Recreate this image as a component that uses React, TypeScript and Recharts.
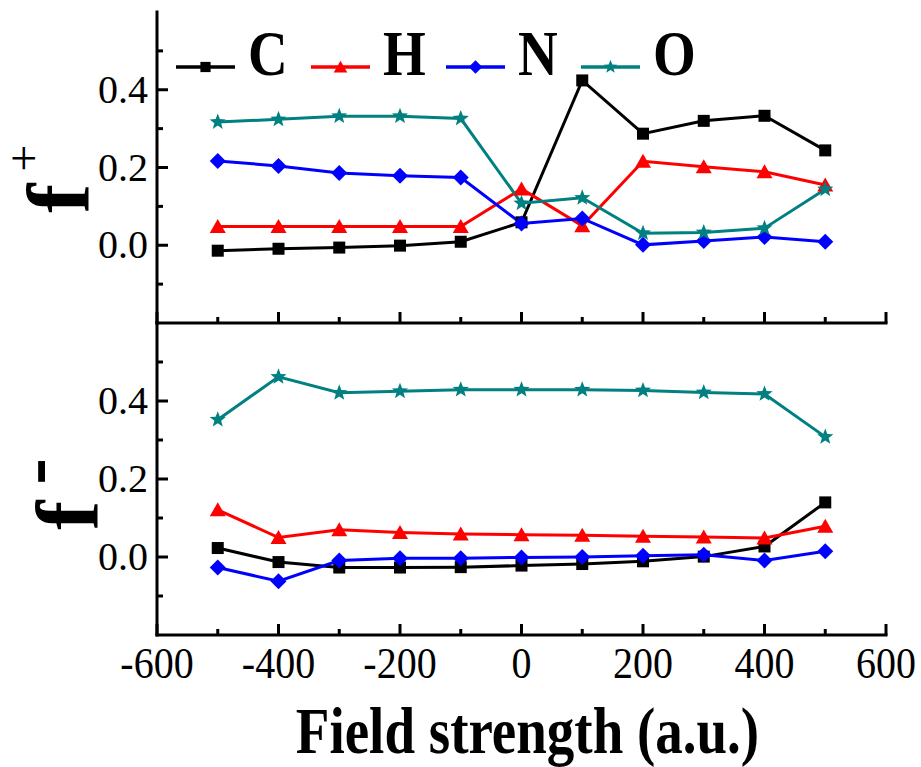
import React from 'react';
import { LineChart, Line, XAxis, YAxis, Legend, Label } from 'recharts';

// field strength (a.u.) at which the Fukui functions were evaluated
const fieldStrength = [-500, -400, -300, -200, -100, 0, 100, 200, 300, 400, 500];

// f+ (upper panel)
const fPlusC = [-0.014, -0.009, -0.006, -0.001, 0.009, 0.059, 0.424, 0.287, 0.32, 0.333, 0.244];
const fPlusH = [0.048, 0.048, 0.048, 0.048, 0.048, 0.145, 0.05, 0.216, 0.202, 0.189, 0.155];
const fPlusN = [0.217, 0.204, 0.186, 0.179, 0.174, 0.056, 0.069, 0.001, 0.011, 0.021, 0.009];
const fPlusO = [0.317, 0.324, 0.332, 0.332, 0.326, 0.108, 0.122, 0.031, 0.033, 0.044, 0.144];

// f- (lower panel)
const fMinusC = [0.023, -0.013, -0.027, -0.027, -0.026, -0.022, -0.018, -0.011, 0.001, 0.027, 0.14];
const fMinusH = [0.121, 0.05, 0.07, 0.063, 0.059, 0.057, 0.056, 0.053, 0.051, 0.049, 0.079];
const fMinusN = [-0.027, -0.062, -0.009, -0.003, -0.003, -0.001, 0.0, 0.003, 0.006, -0.009, 0.015];
const fMinusO = [0.352, 0.462, 0.421, 0.425, 0.429, 0.429, 0.429, 0.427, 0.422, 0.418, 0.308];

const xTicks = [-600, -500, -400, -300, -200, -100, 0, 100, 200, 300, 400, 500, 600];
const yTicks = [-0.1, 0, 0.1, 0.2, 0.3, 0.4, 0.5];
const yLabels = [0, 0.2, 0.4];

const elements = ['C', 'H', 'N', 'O'];
const colors: Record<string, string> = { C: '#000000', H: '#ff0000', N: '#0000ff', O: '#008080' };
const shapes: Record<string, string> = { C: 'square', H: 'triangle', N: 'diamond', O: 'star' };

const serif = "'Liberation Serif', Tinos, 'Times New Roman', Times, 'Nimbus Roman', 'DejaVu Serif', 'Noto Serif', serif";

const toRows = (c: number[], h: number[], n: number[], o: number[]) =>
  fieldStrength.map((x, i) => ({ x, C: c[i], H: h[i], N: n[i], O: o[i] }));

const plusRows = toRows(fPlusC, fPlusH, fPlusN, fPlusO);
const minusRows = toRows(fMinusC, fMinusH, fMinusN, fMinusO);

const Marker = ({ shape, cx, cy, color, s = 1 }: any) => {
  if (cx == null || cy == null) return null;
  if (shape === 'square') {
    return <rect x={cx - 6 * s} y={cy - 6 * s} width={12 * s} height={12 * s} fill={color} />;
  }
  if (shape === 'triangle') {
    const pts = `${cx},${cy - 7.5 * s} ${cx - 8 * s},${cy + 6.5 * s} ${cx + 8 * s},${cy + 6.5 * s}`;
    return <polygon points={pts} fill={color} />;
  }
  if (shape === 'diamond') {
    const pts = `${cx},${cy - 8 * s} ${cx + 8 * s},${cy} ${cx},${cy + 8 * s} ${cx - 8 * s},${cy}`;
    return <polygon points={pts} fill={color} />;
  }
  const pts: string[] = [];
  for (let k = 0; k < 10; k++) {
    const r = (k % 2 === 0 ? 8.5 : 3.6) * s;
    const a = -Math.PI / 2 + (k * Math.PI) / 5;
    pts.push(`${cx + r * Math.cos(a)},${cy + r * Math.sin(a)}`);
  }
  return <polygon points={pts.join(' ')} fill={color} />;
};

const makeDot = (el: string) => (props: any) => (
  <Marker key={`${el}-${props.index}`} shape={shapes[el]} cx={props.cx} cy={props.cy} color={colors[el]} />
);

// inward ticks, labels only on every other tick
const XTick = ({ x, y, payload, showLabel }: any) => {
  const v = payload.value;
  const major = v % 200 === 0;
  return (
    <g>
      <line x1={x} x2={x} y1={y} y2={y - (major ? 11 : 6)} stroke="#000" strokeWidth={3} />
      {showLabel && major && (
        <text
          transform={`translate(${x},${y + 43}) scale(1,1.12)`}
          textAnchor="middle"
          fontSize={40}
          fontFamily={serif}
          fill="#000"
        >
          {v}
        </text>
      )}
    </g>
  );
};

const YTick = ({ x, y, payload }: any) => {
  const v = payload.value;
  const major = yLabels.includes(v);
  return (
    <g>
      <line x1={x} x2={x + (major ? 11 : 6)} y1={y} y2={y} stroke="#000" strokeWidth={3} />
      {major && (
        <text x={x - 9} y={y + 13} textAnchor="end" fontSize={40} fontFamily={serif} fill="#000">
          {v.toFixed(1)}
        </text>
      )}
    </g>
  );
};

// rotated "f+" / "f-" axis titles
const FLabel = ({ viewBox, sup, dx0, dy0, supSize, supWeight, supDx, supDy }: any) => {
  const tx = viewBox.x + dx0;
  const ty = viewBox.y + dy0;
  return (
    <text
      transform={`translate(${tx},${ty}) rotate(-90)`}
      fontFamily={serif}
      fontWeight="bold"
      fontSize={88}
      fill="#000"
    >
      <tspan>f</tspan>
      <tspan fontSize={supSize} fontWeight={supWeight} dx={supDx} dy={supDy}>
        {sup}
      </tspan>
    </text>
  );
};

const TitleLabel = ({ viewBox }: any) => (
  <text
    transform={`translate(${viewBox.x + viewBox.width / 2 + 6},${viewBox.y + 118}) scale(1,1.19)`}
    textAnchor="middle"
    fontFamily={serif}
    fontWeight="bold"
    fontSize={55}
    fill="#000"
  >
    Field strength (a.u.)
  </text>
);

const renderLegend = (props: any) => {
  const items = props.payload && props.payload.length ? props.payload : elements.map((e) => ({ dataKey: e, value: e }));
  return (
    <svg width={560} height={100} style={{ overflow: 'visible' }}>
      {items.map((it: any, i: number) => {
        const key = String(it.dataKey);
        const x0 = 6 + i * 135;
        return (
          <g key={key}>
            <line x1={x0} x2={x0 + 59} y1={67} y2={67} stroke={colors[key]} strokeWidth={3.5} />
            <Marker shape={shapes[key]} cx={x0 + 29.5} cy={67} color={colors[key]} s={0.85} />
            <text
              transform={`translate(${x0 + 72},75) scale(1,1.15)`}
              fontFamily={serif}
              fontWeight="bold"
              fontSize={55}
              fill="#000"
            >
              {it.value}
            </text>
          </g>
        );
      })}
    </svg>
  );
};

const frame = { stroke: '#000', strokeWidth: 3, strokeLinecap: 'square' as const };

const Panel = ({ rows, height, margin, bottomAxisHeight, showXLabels, fLabel, legend }: any) => (
  <LineChart width={921} height={height} data={rows} margin={margin} style={{ fontFamily: serif }}>
    <XAxis
      dataKey="x"
      type="number"
      domain={[-600, 600]}
      ticks={xTicks}
      interval={0}
      allowDataOverflow
      height={bottomAxisHeight}
      axisLine={frame}
      tickLine={false}
      tickSize={0}
      tickMargin={0}
      tick={<XTick showLabel={showXLabels} />}
    >
      {showXLabels && <Label content={<TitleLabel />} />}
    </XAxis>
    <XAxis xAxisId="top" orientation="top" dataKey="x" type="number" domain={[-600, 600]} height={0} tick={false} tickLine={false} axisLine={frame} />
    <YAxis
      type="number"
      domain={[-0.2, 0.6]}
      ticks={yTicks}
      interval={0}
      allowDataOverflow
      width={157}
      axisLine={frame}
      tickLine={false}
      tickSize={0}
      tickMargin={0}
      tick={<YTick />}
    >
      <Label content={<FLabel {...fLabel} />} />
    </YAxis>
    <YAxis yAxisId="right" orientation="right" width={0} tick={false} tickLine={false} axisLine={frame} />
    {legend && (
      <Legend
        verticalAlign="middle"
        align="center"
        layout="horizontal"
        content={renderLegend}
        wrapperStyle={{ top: 0, left: 170, width: 560, height: 100 }}
      />
    )}
    {elements.map((el) => (
      <Line
        key={el}
        type="linear"
        dataKey={el}
        name={el}
        stroke={colors[el]}
        strokeWidth={3}
        dot={makeDot(el)}
        activeDot={false}
        isAnimationActive={false}
      />
    ))}
  </LineChart>
);

export default function App() {
  return (
    <div
      style={{
        position: 'absolute',
        top: 0,
        left: 0,
        width: 921,
        height: 767,
        background: '#fff',
        fontFamily: serif,
      }}
    >
      <div style={{ position: 'absolute', top: 0, left: 0 }}>
        <Panel
          rows={plusRows}
          height={335}
          margin={{ top: 12, right: 35, bottom: 0, left: 0 }}
          bottomAxisHeight={12}
          showXLabels={false}
          legend
          fLabel={{ sup: '+', dx0: 88, dy0: 201, supSize: 48, supWeight: 'normal', supDx: 12, supDy: -48 }}
        />
      </div>
      <div style={{ position: 'absolute', top: 311, left: 0 }}>
        <Panel
          rows={minusRows}
          height={456}
          margin={{ top: 12, right: 35, bottom: 0, left: 0 }}
          bottomAxisHeight={132}
          showXLabels
          legend={false}
          fLabel={{ sup: '-', dx0: 97, dy0: 207, supSize: 80, supWeight: 'bold', supDx: 16, supDy: -36 }}
        />
      </div>
    </div>
  );
}
